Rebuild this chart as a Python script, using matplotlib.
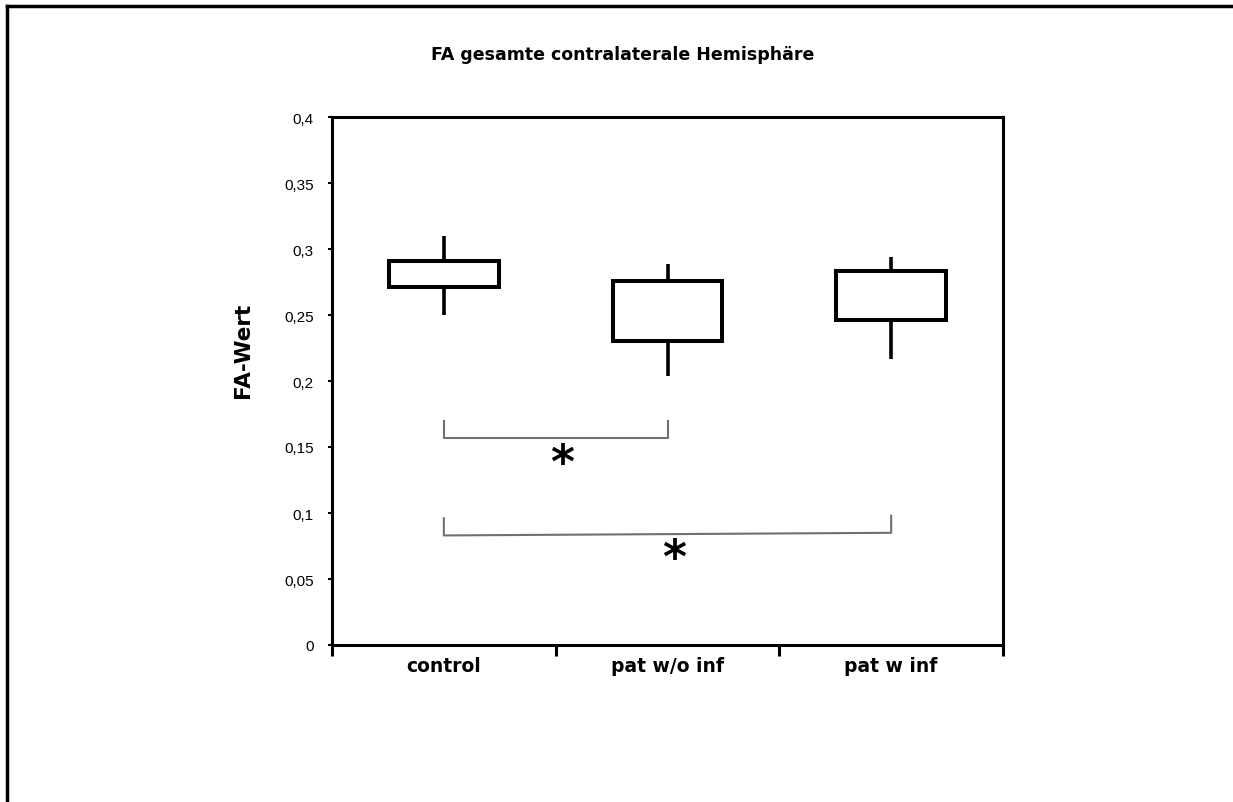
import matplotlib
matplotlib.use("Agg")
import matplotlib.pyplot as plt
from matplotlib.lines import Line2D

plt.rcParams['font.family'] = ['Liberation Sans', 'DejaVu Sans']

# Daten (FA-Werte)
groups = ["control", "pat w/o inf", "pat w inf"]
q_low = [0.271, 0.230, 0.246]
q_high = [0.291, 0.276, 0.283]
whisk_low = [0.250, 0.204, 0.217]
whisk_high = [0.310, 0.289, 0.294]

# Signifikanz-Klammern: (von, bis, y links, y rechts, Höhe)
brackets = [(0, 1, 0.157, 0.157, 0.013), (0, 2, 0.083, 0.085, 0.013)]
stars = [(0.53, 0.137), (1.03, 0.065)]

yticks = [0, 0.05, 0.1, 0.15, 0.2, 0.25, 0.3, 0.35, 0.4]
ylabels = ["0", "0,05", "0,1", "0,15", "0,2", "0,25", "0,3", "0,35", "0,4"]

fig = plt.figure(figsize=(12.33, 8.03), dpi=100)
ax = fig.add_axes([332 / 1233, 1 - 646 / 803, (1003 - 332) / 1233, (646 - 118) / 803])

x = list(range(len(groups)))
ax.vlines(x, whisk_low, q_low, color="black", lw=2.6, zorder=2)
ax.vlines(x, q_high, whisk_high, color="black", lw=2.6, zorder=2)
heights = [h - l for h, l in zip(q_high, q_low)]
ax.bar(x, heights, bottom=q_low, width=0.49, color="white", edgecolor="black", lw=2.9, zorder=3)

for x0, x1, y0, y1, h in brackets:
    ax.plot([x0, x0, x1, x1], [y0 + h, y0, y1, y1 + h], color="#707070", lw=1.5, zorder=2)
for sx, sy in stars:
    ax.text(sx, sy, "*", fontsize=33, fontweight="bold", ha="center", va="center",
            family="DejaVu Sans")

ax.set_xlim(-0.5, 2.5)
ax.set_ylim(0, 0.4)
ax.set_yticks(yticks)
ax.set_yticklabels(ylabels, fontsize=11)
ax.set_xticks([-0.5, 0.5, 1.5, 2.5])
ax.set_xticklabels([])
ax.set_xticks(x, minor=True)
ax.set_xticklabels(groups, minor=True, fontsize=13.5, fontweight="bold", family="DejaVu Sans")
ax.tick_params(axis="x", which="major", length=8, width=2.2, direction="out")
ax.tick_params(axis="x", which="minor", length=0, pad=8)
ax.tick_params(axis="y", length=3, width=1.5, direction="out", pad=10)
for s in ax.spines.values():
    s.set_linewidth(2.2)

fig.text(243 / 1233, 1 - 350 / 803, "FA-Wert", rotation=90, fontsize=15.5,
         fontweight="bold", ha="center", va="center", family="DejaVu Sans")
fig.text(623 / 1233, 1 - 55 / 803, "FA gesamte contralaterale Hemisphäre",
         fontsize=12.5, fontweight="bold", ha="center", va="center", family="DejaVu Sans")

# Rahmen oben und links
fig.add_artist(Line2D([7 / 1233, 1], [1 - 7 / 803, 1 - 7 / 803], color="black", lw=2.5))
fig.add_artist(Line2D([7 / 1233, 7 / 1233], [0, 1 - 7 / 803], color="black", lw=2.5))

fig.savefig("out.png", dpi=100)
plt.close()
